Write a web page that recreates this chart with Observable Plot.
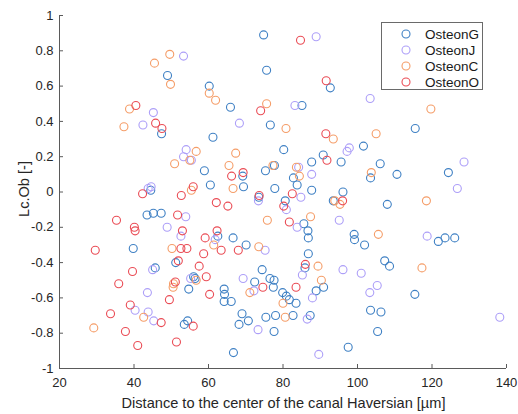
<!DOCTYPE html>
<html>
<head>
<meta charset="utf-8">
<script src="https://cdn.jsdelivr.net/npm/d3@7"></script>
<script src="https://cdn.jsdelivr.net/npm/@observablehq/plot@0.6"></script>
<style>
  html, body { margin: 0; padding: 0; background: #fff; }
  #wrap { position: relative; width: 518px; height: 414px; font-family: "Liberation Sans", Arial, sans-serif; }
  #legend { position: absolute; left: 381px; top: 22px; width: 102px; height: 68px; border: 1px solid #6a6a6a; background: #fff; box-sizing: border-box; }
  .row { position: absolute; left: 0; height: 16px; display: flex; align-items: center; font-size: 13.5px; color: #1a1a1a; }
  .row svg { margin-left: 19px; margin-right: 14px; }
</style>
</head>
<body>
<div id="wrap"><div id="legend"></div></div>
<script>
const seriesNames = ["OsteonG", "OsteonJ", "OsteonC", "OsteonO"];
const seriesColors = ["#3f80c4", "#ad9ff8", "#f59d68", "#ea4c55"];

const xG = [49.0,60.2,47.4,74.8,75.6,92.7,65.9,85.1,76.6,61.2,115.5,58.9,60.5,44.5,43.5,45.2,47.3,39.8,80.2,90.8,95.6,87.7,77.7,75.3,82.8,69.2,83.8,69.4,77.8,87.7,73.5,96.1,93.5,80.6,85.6,86.7,86.8,99.1,99.2,62.5,66.6,70.1,86.8,101.6,106.1,103.5,110.6,124.4,108.0,101.9,121.7,123.5,126.1,45.7,51.2,56.0,56.4,54.7,54.4,53.5,74.4,85.9,72.4,76.5,77.6,77.4,90.9,88.9,64.2,64.3,64.2,66.1,79.9,80.9,81.7,83.5,69.0,68.2,70.7,75.4,78.0,82.7,87.3,77.6,66.7,97.5,107.3,108.6,115.4,103.5,106.3,105.4];
const yG = [0.66,0.60,0.33,0.89,0.69,0.59,0.48,0.49,0.38,0.31,0.36,0.12,0.04,0.01,-0.13,-0.12,-0.12,-0.32,0.24,0.21,0.17,0.17,0.15,0.12,0.08,0.09,0.04,0.03,0.02,0.01,-0.03,0.00,-0.05,-0.05,-0.18,-0.22,-0.26,-0.24,-0.27,-0.25,-0.26,-0.30,-0.35,0.26,0.16,0.08,0.10,0.11,-0.07,-0.30,-0.28,-0.26,-0.26,-0.43,-0.40,-0.48,-0.49,-0.55,-0.73,-0.75,-0.44,-0.43,-0.51,-0.49,-0.50,-0.54,-0.54,-0.56,-0.55,-0.58,-0.62,-0.62,-0.57,-0.59,-0.61,-0.63,-0.69,-0.75,-0.73,-0.71,-0.70,-0.70,-0.70,-0.79,-0.91,-0.88,-0.39,-0.42,-0.58,-0.67,-0.68,-0.79];

const xJ = [53.3,45.2,42.4,88.9,83.2,68.3,103.4,54.0,53.3,55.4,44.6,43.8,53.9,48.9,52.6,97.8,97.2,84.2,87.7,84.8,73.4,80.9,83.8,95.1,61.8,75.2,128.6,126.8,118.7,45.0,55.2,43.6,40.3,43.8,45.3,96.1,85.2,69.3,72.2,87.9,86.5,73.3,89.6,101.0,105.3,103.3,138.2];
const yJ = [0.77,0.45,0.38,0.88,0.49,0.39,0.53,0.24,0.20,0.18,0.03,0.02,-0.14,-0.20,-0.25,0.25,0.23,0.14,0.10,-0.03,-0.05,-0.10,-0.20,-0.16,-0.27,-0.33,0.17,0.02,-0.25,-0.44,-0.49,-0.57,-0.67,-0.68,-0.73,-0.44,-0.47,-0.49,-0.56,-0.60,-0.72,-0.78,-0.92,-0.46,-0.53,-0.57,-0.71];

const xC = [49.6,45.5,49.8,60.2,38.8,37.3,61.9,75.6,80.8,93.5,119.7,105.0,56.7,55.0,50.9,55.4,50.2,67.3,65.5,77.3,83.6,84.4,66.6,93.9,95.3,75.8,87.4,61.4,73.5,103.7,118.5,105.6,56.7,50.6,50.5,42.6,29.2,89.4,90.3,71.1,80.0,80.6,117.3];
const yC = [0.78,0.73,0.61,0.56,0.47,0.37,0.52,0.50,0.36,0.30,0.47,0.33,0.23,0.18,0.16,0.01,-0.32,0.22,0.15,0.15,0.14,0.09,0.02,-0.05,-0.07,-0.16,-0.14,-0.30,-0.31,0.11,-0.05,-0.24,-0.50,-0.52,-0.54,-0.71,-0.77,-0.42,-0.50,-0.57,-0.63,-0.71,-0.43];

const xO = [40.5,45.8,47.5,84.7,91.6,74.0,91.5,42.3,55.9,52.7,51.7,35.3,40.1,40.3,53.0,59.1,29.6,52.6,54.2,58.7,91.8,69.3,66.2,82.5,73.6,96.0,62.1,65.2,80.2,81.7,62.3,63.4,68.0,39.6,51.9,57.5,35.9,59.4,51.1,60.3,49.5,39.0,33.7,47.3,55.9,37.7,51.4,41.0,86.0,74.6,83.5];
const yO = [0.49,0.39,0.36,0.86,0.63,0.46,0.33,-0.01,0.03,-0.02,-0.13,-0.16,-0.20,-0.22,-0.22,-0.26,-0.33,-0.32,-0.32,-0.35,0.18,0.11,0.09,-0.01,-0.02,-0.05,-0.06,-0.08,-0.08,-0.17,-0.22,-0.33,-0.33,-0.45,-0.39,-0.42,-0.52,-0.48,-0.51,-0.58,-0.61,-0.64,-0.69,-0.74,-0.76,-0.79,-0.85,-0.87,-0.41,-0.54,-0.54];

const xTicks = [20, 40, 60, 80, 100, 120, 140];
const yTicks = [-1, -0.8, -0.6, -0.4, -0.2, 0, 0.2, 0.4, 0.6, 0.8, 1];

const xs = [xG, xJ, xC, xO];
const ys = [yG, yJ, yC, yO];
const points = [];
seriesNames.forEach((s, k) => xs[k].forEach((x, i) => points.push({series: s, x, y: ys[k][i]})));

const axisColor = "#5a5a5a";
const chart = Plot.plot({
  width: 518,
  height: 414,
  marginLeft: 59,
  marginRight: 12,
  marginTop: 15,
  marginBottom: 46,
  style: {fontFamily: "Liberation Sans, Arial, sans-serif", fontSize: "13px", color: "#262626", background: "white"},
  x: {domain: [20, 140]},
  y: {domain: [-1, 1]},
  color: {domain: seriesNames, range: seriesColors},
  marks: [
    Plot.ruleX([20], {stroke: axisColor, strokeWidth: 1}),
    Plot.ruleY([-1], {stroke: axisColor, strokeWidth: 1}),
    Plot.axisX(xTicks, {tickSize: -4, tickPadding: 13, stroke: axisColor, fill: "#262626", fontSize: 13, label: null}),
    Plot.axisY(yTicks, {tickSize: -4, tickPadding: 10, stroke: axisColor, fill: "#262626", fontSize: 13, label: null, tickFormat: d => String(d)}),
    Plot.dot(points, {x: "x", y: "y", stroke: "series", r: 4, strokeWidth: 1.1, fill: "none"})
  ]
});
const wrap = document.getElementById("wrap");
wrap.insertBefore(chart, wrap.firstChild);

// axis titles
const svg = d3.select(chart);
svg.append("text").attr("x", (59 + 506) / 2 + 1).attr("y", 408).attr("text-anchor", "middle")
  .attr("font-size", 14.6).attr("fill", "#262626").text("Distance to the center of the canal Haversian [µm]");
svg.append("text").attr("transform", "translate(29," + 189 + ") rotate(-90)").attr("text-anchor", "middle")
  .attr("font-size", 14.6).attr("fill", "#262626").text("Lc.Ob [-]");

// legend
const legend = document.getElementById("legend");
seriesNames.forEach((s, k) => {
  const row = document.createElement("div");
  row.className = "row";
  row.style.top = (3 + k * 16) + "px";
  row.innerHTML = `<svg width="10" height="10"><circle cx="5" cy="5" r="4" fill="none" stroke="${seriesColors[k]}" stroke-width="1.1"/></svg><span>${s}</span>`;
  legend.appendChild(row);
});
</script>
</body>
</html>
